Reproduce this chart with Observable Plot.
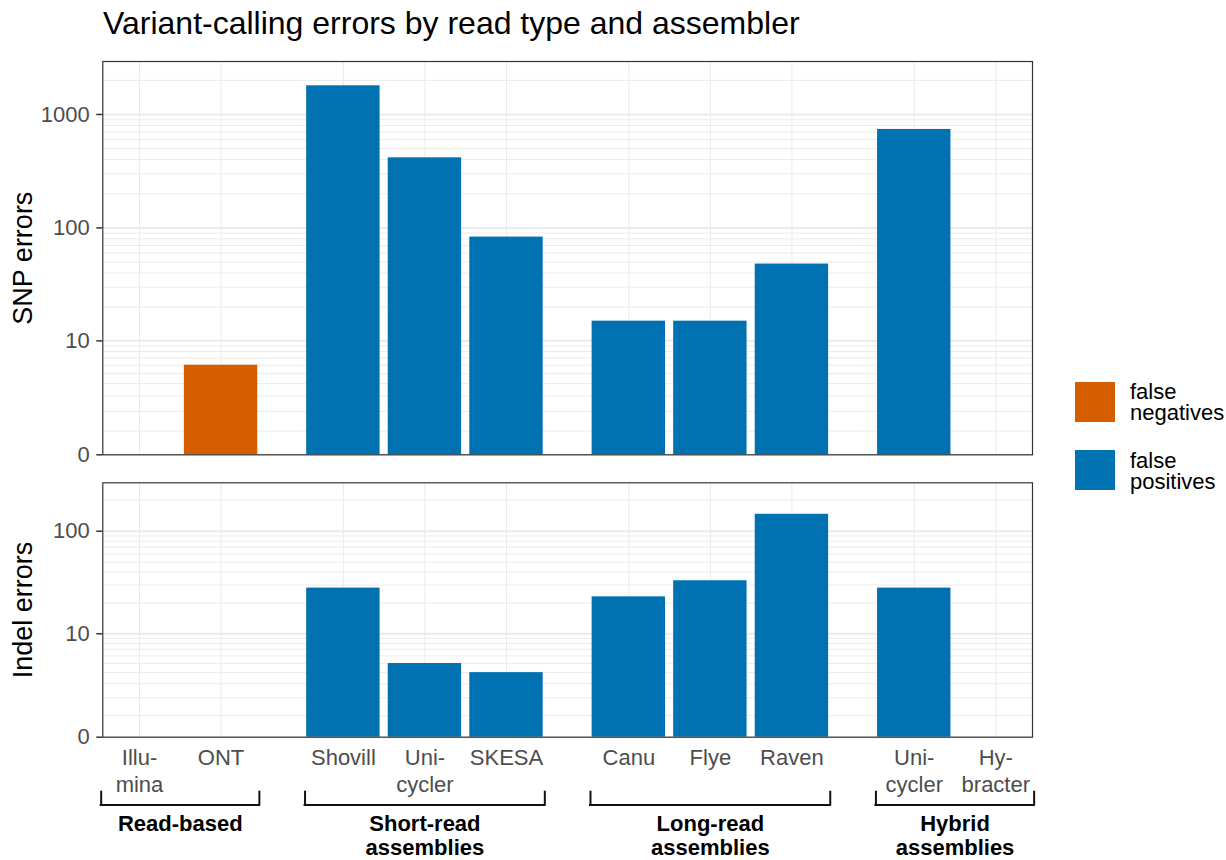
<!DOCTYPE html>
<html>
<head>
<meta charset="utf-8">
<script src="https://cdn.jsdelivr.net/npm/d3@7"></script>
<script src="https://cdn.jsdelivr.net/npm/@observablehq/plot@0.6"></script>
<style>
  html, body { margin: 0; padding: 0; background: #fff; }
  #chart { position: relative; width: 1226px; height: 860px; overflow: hidden;
           font-family: "Liberation Sans", Arial, Helvetica, sans-serif; }
  #chart > * { position: absolute; }
  .title { left: 103px; top: 7px; font-size: 32px; line-height: 32px; color: #000; white-space: nowrap; }
  .key { width: 40px; height: 40px; }
  .keytxt { font-size: 22px; line-height: 21px; color: #000; white-space: pre; }
</style>
</head>
<body>
<div id="chart"></div>
<script>
// ---- data ----
const assemblers = ["Illu-\nmina", "ONT", "Shovill", "Uni-\ncycler", "SKESA", "Canu", "Flye", "Raven", "Uni-\ncycler", "Hy-\nbracter"];
const groupIndex = [0, 0, 1, 1, 1, 2, 2, 2, 3, 3];
const groups = ["Read-based", "Short-read\nassemblies", "Long-read\nassemblies", "Hybrid\nassemblies"];
const errorTypes = ["false negatives", "false positives"];
const errorColors = ["#D55E00", "#0072B2"];
const snpFalseNeg = [0, 6, 0, 0, 0, 0, 0, 0, 0, 0];
const snpFalsePos = [0, 0, 1790, 415, 83, 15, 15, 48, 738, 0];
const indelFalseNeg = [0, 0, 0, 0, 0, 0, 0, 0, 0, 0];
const indelFalsePos = [0, 0, 28, 5, 4, 23, 33, 146, 28, 0];
const majorTicksSnp = [0, 10, 100, 1000];
const minorTicksSnp = [1, 2, 3, 4, 5, 6, 7, 8, 9, 20, 30, 40, 50, 60, 70, 80, 90, 200, 300, 400, 500, 600, 700, 800, 900, 2000];
const majorTicksIndel = [0, 10, 100];
const minorTicksIndel = [1, 2, 3, 4, 5, 6, 7, 8, 9, 20, 30, 40, 50, 60, 70, 80, 90, 200];

(function () {
// ---- derived ----
const pos = assemblers.map((_, i) => i + 1 + 0.5 * groupIndex[i]);
const labelAt = new Map(pos.map((p, i) => [p, assemblers[i]]));
const halfBar = 0.45;
function rows(fn, fp) {
  const out = [];
  assemblers.forEach((a, i) => {
    if (fn[i] > 0) out.push({x: pos[i], value: fn[i], type: errorTypes[0]});
    if (fp[i] > 0) out.push({x: pos[i], value: fp[i], type: errorTypes[1]});
  });
  return out;
}
const snpRows = rows(snpFalseNeg, snpFalsePos);
const indelRows = rows(indelFalseNeg, indelFalsePos);
const groupRows = groups.map((g, k) => {
  const ps = pos.filter((_, i) => groupIndex[i] === k);
  return {label: g, lo: d3.min(ps) - 0.47, hi: d3.max(ps) + 0.47, mid: (d3.min(ps) + d3.max(ps)) / 2};
});

// pseudo-log (asinh, sigma = 1) transform
const T = v => Math.asinh(v / 2) / Math.LN10;

const FONT = '"Liberation Sans", Arial, Helvetica, sans-serif';
const common = {
  width: 1226,
  marginLeft: 102.3,
  marginRight: 194,
  style: {fontFamily: FONT, background: "transparent", overflow: "visible"},
  color: {domain: errorTypes, range: errorColors}
};

function panel({rowsData, major, minor, domainTop, height, marginTop, marginBottom, title, withX}) {
  const marks = [
    Plot.gridY(minor, {stroke: "#ebebeb", strokeOpacity: 1, strokeWidth: 1}),
    Plot.gridY(major, {stroke: "#ebebeb", strokeOpacity: 1, strokeWidth: 2}),
    Plot.gridX(pos, {stroke: "#ebebeb", strokeOpacity: 1, strokeWidth: 1}),
    Plot.rectY(rowsData, {x1: d => d.x - halfBar, x2: d => d.x + halfBar, y1: d => 0, y2: "value", fill: "type"}),
    Plot.frame({stroke: "#333333", strokeWidth: 1.2}),
    Plot.axisY(major, {tickSize: 6, tickPadding: 7, fontSize: 22, fill: "#4d4d4d", stroke: "#333333", strokeWidth: 1.5, tickFormat: d3.format("d"), label: null}),
    Plot.text([title], {frameAnchor: "left", textAnchor: "middle", dx: -79, rotate: -90, fontSize: 27, fill: "#000"})
  ];
  if (withX) {
    marks.push(Plot.axisX(pos, {tickSize: 0, tickPadding: 9.5, fontSize: 22, fill: "#4d4d4d", lineHeight: 1.2, tickFormat: d => labelAt.get(d), label: null}));
  }
  return Plot.plot({
    ...common,
    height, marginTop, marginBottom,
    x: {domain: [0.55, 11.95], axis: null},
    y: {domain: [0, domainTop], transform: T, axis: null},
    marks
  });
}

const chart = document.getElementById("chart");

const titleEl = document.createElement("div");
titleEl.className = "title";
titleEl.textContent = "Variant-calling errors by read type and assembler";
chart.appendChild(titleEl);

const snpPlot = panel({rowsData: snpRows, major: majorTicksSnp, minor: minorTicksSnp, domainTop: 3.467,
  height: 460, marginTop: 61, marginBottom: 5.7, title: "SNP errors", withX: false});
snpPlot.style.left = "0px"; snpPlot.style.top = "0px";
chart.appendChild(snpPlot);

const indelPlot = panel({rowsData: indelRows, major: majorTicksIndel, minor: minorTicksIndel, domainTop: 2.470,
  height: 330, marginTop: 12.3, marginBottom: 63.3, title: "Indel errors", withX: true});
indelPlot.style.left = "0px"; indelPlot.style.top = "470px";
chart.appendChild(indelPlot);

const brackets = Plot.plot({
  ...common,
  height: 80, marginTop: 11.7, marginBottom: 55.5,
  x: {domain: [0.55, 11.95], axis: null},
  y: {domain: [0, 1], axis: null},
  marks: [
    Plot.ruleY(groupRows, {x1: "lo", x2: "hi", y: d => 0, stroke: "#111", strokeWidth: 2, strokeLinecap: "square"}),
    Plot.ruleX(groupRows, {x: "lo", y1: d => 0, y2: d => 1, stroke: "#111", strokeWidth: 2, strokeLinecap: "square"}),
    Plot.ruleX(groupRows, {x: "hi", y1: d => 0, y2: d => 1, stroke: "#111", strokeWidth: 2, strokeLinecap: "square"}),
    Plot.text(groupRows, {x: "mid", text: "label", frameAnchor: "bottom", lineAnchor: "top", dy: 10, fontSize: 22, fontWeight: "bold", fill: "#000", lineHeight: 1.05})
  ]
});
brackets.style.left = "0px"; brackets.style.top = "780px";
chart.appendChild(brackets);

// legend
const legendTops = [381.8, 450];
errorTypes.forEach((t, i) => {
  const sw = document.createElement("div");
  sw.className = "key";
  sw.style.left = "1075px";
  sw.style.top = legendTops[i] + "px";
  sw.style.background = errorColors[i];
  chart.appendChild(sw);
  const tx = document.createElement("div");
  tx.className = "keytxt";
  tx.style.left = "1130px";
  tx.style.top = (legendTops[i] - 0.5) + "px";
  tx.textContent = t.replace(" ", "\n");
  chart.appendChild(tx);
});
})();
</script>
</body>
</html>
